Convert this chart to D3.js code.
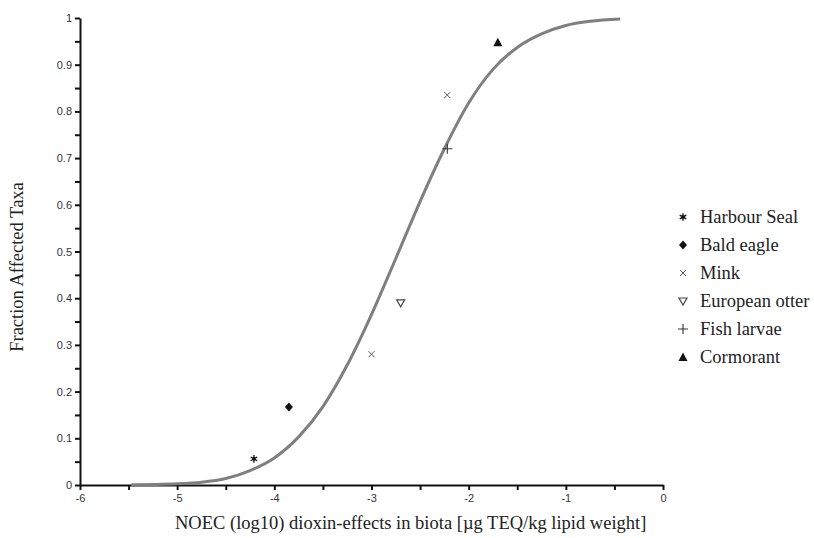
<!DOCTYPE html>
<html>
<head>
<meta charset="utf-8">
<script src="https://cdn.jsdelivr.net/npm/d3@7"></script>
<style>
    body { margin: 0; background: #fff; }
</style>
</head>
<body>
<div class="container"></div>
<script>
// observed taxa (log10 NOEC, fraction affected)
const species = ["Harbour Seal", "Bald eagle", "Mink", "European otter", "Fish larvae", "Cormorant"];
const pointSpecies = ["Harbour Seal", "Bald eagle", "Mink", "European otter", "Mink", "Fish larvae", "Cormorant"];
const pointX = [-4.21, -3.85, -3.0, -2.70, -2.22, -2.22, -1.70];
const pointY = [0.056, 0.167, 0.28, 0.39, 0.835, 0.72, 0.948];

// fitted curve
const curveX = [-5.47, -5.25, -5.0, -4.75, -4.5, -4.25, -4.0, -3.75, -3.5, -3.25, -3.0, -2.75, -2.5, -2.25, -2.0, -1.75, -1.5, -1.25, -1.0, -0.75, -0.44];
const curveY = [0.0003, 0.001, 0.0025, 0.006, 0.014, 0.031, 0.058, 0.103, 0.168, 0.257, 0.365, 0.485, 0.607, 0.72, 0.818, 0.89, 0.937, 0.966, 0.984, 0.993, 0.998];

const xTicks = [-6, -5, -4, -3, -2, -1, 0];
const yTicks = [0, 0.1, 0.2, 0.3, 0.4, 0.5, 0.6, 0.7, 0.8, 0.9, 1];

const width = 814, height = 538,
    margin = {top: 18, right: 151, bottom: 53, left: 80},
    serif = '"Liberation Serif", "Times New Roman", Times, serif',
    sans = '"Liberation Sans", Arial, sans-serif';

const svg = d3.select('.container')
    .append('svg')
    .attr('width', width)
    .attr('height', height);

const x = d3.scaleLinear().domain([-6, 0]).range([margin.left, width - margin.right]);
const y = d3.scaleLinear().domain([0, 1]).range([height - margin.bottom, margin.top]);

// minor ticks
svg.append('g')
    .attr('transform', `translate(0,${y(0)})`)
    .call(d3.axisBottom(x).tickValues(d3.range(-5.5, 0, 1)).tickSize(5).tickFormat(''))
    .call(g => g.select('.domain').remove())
    .selectAll('line').attr('stroke', '#111').attr('stroke-width', 2);
svg.append('g')
    .attr('transform', `translate(${x(-6)},0)`)
    .call(d3.axisLeft(y).tickValues(d3.range(0.05, 1, 0.1)).tickSize(5).tickFormat(''))
    .call(g => g.select('.domain').remove())
    .selectAll('line').attr('stroke', '#111').attr('stroke-width', 2);

const xAxis = svg.append('g')
    .attr('transform', `translate(0,${y(0)})`)
    .call(d3.axisBottom(x).tickValues(xTicks).tickSize(5).tickSizeOuter(0).tickPadding(4));
const yAxis = svg.append('g')
    .attr('transform', `translate(${x(-6)},0)`)
    .call(d3.axisLeft(y).tickValues(yTicks).tickSize(5).tickSizeOuter(0).tickPadding(3).tickFormat(d => d === 0 || d === 1 ? d : d.toFixed(1)));
[xAxis, yAxis].forEach(a => {
    a.attr('font-family', sans).attr('font-size', 11);
    a.select('.domain').attr('stroke', '#111').attr('stroke-width', 2);
    a.selectAll('.tick line').attr('stroke', '#111').attr('stroke-width', 2);
    a.selectAll('.tick text').attr('fill', '#333');
});
xAxis.selectAll('.tick text').text(d => d < 0 ? '-' + Math.abs(d) : d);

// curve
const line = d3.line()
    .x(d => x(d[0]))
    .y(d => y(d[1]))
    .curve(d3.curveMonotoneX);
svg.append('path')
    .datum(curveX.map((v, i) => [v, curveY[i]]))
    .attr('d', line)
    .attr('fill', 'none')
    .attr('stroke', '#7f7f7f')
    .attr('stroke-width', 3);

// markers
const drawMarker = (g, name) => {
    if (name === "Harbour Seal") {
        g.append('path').attr('d', d3.symbol(d3.symbolAsterisk, 40)())
            .attr('stroke', '#111').attr('stroke-width', 1.3).attr('fill', 'none');
        g.append('circle').attr('r', 1.8).attr('fill', '#111');
    } else if (name === "Bald eagle") {
        g.append('path').attr('d', 'M0,-4.5L4,0L0,4.5L-4,0Z').attr('fill', '#111');
    } else if (name === "Mink") {
        g.append('path').attr('d', 'M-3,-3L3,3M-3,3L3,-3').attr('stroke', '#555').attr('stroke-width', 1);
    } else if (name === "European otter") {
        g.append('path').attr('d', 'M-4,-3L4,-3L0,4Z').attr('fill', 'none').attr('stroke', '#444').attr('stroke-width', 1.2);
    } else if (name === "Fish larvae") {
        g.append('path').attr('d', 'M-5,0L5,0M0,-5L0,5').attr('stroke', '#333').attr('stroke-width', 1.1);
    } else if (name === "Cormorant") {
        g.append('path').attr('d', 'M0,-4.5L4.5,4L-4.5,4Z').attr('fill', '#111');
    }
};

svg.selectAll('.point')
    .data(pointX.map((v, i) => ({x: v, y: pointY[i], name: pointSpecies[i]})))
    .enter()
    .append('g')
    .attr('class', 'point')
    .attr('transform', d => `translate(${x(d.x)},${y(d.y)})`)
    .each(function(d) { drawMarker(d3.select(this), d.name); });

// legend
const legend = svg.append('g')
    .attr('font-family', serif)
    .attr('font-size', 18.5)
    .attr('fill', '#222');
const item = legend.selectAll('g')
    .data(species)
    .enter()
    .append('g')
    .attr('transform', (d, i) => `translate(683,${217 + i * 28})`);
item.each(function(d) { drawMarker(d3.select(this), d); });
item.append('text')
    .attr('x', 17)
    .attr('dy', '0.35em')
    .text(d => d);

// titles
svg.append('text')
    .attr('font-family', serif)
    .attr('font-size', 18.5)
    .attr('fill', '#222')
    .attr('x', 175)
    .attr('y', 529)
    .text('NOEC (log10) dioxin-effects in biota [µg TEQ/kg lipid weight]');
svg.append('text')
    .attr('font-family', serif)
    .attr('font-size', 18.5)
    .attr('fill', '#222')
    .attr('transform', `translate(23,267) rotate(-90)`)
    .attr('text-anchor', 'middle')
    .text('Fraction Affected Taxa');
</script>
</body>
</html>
